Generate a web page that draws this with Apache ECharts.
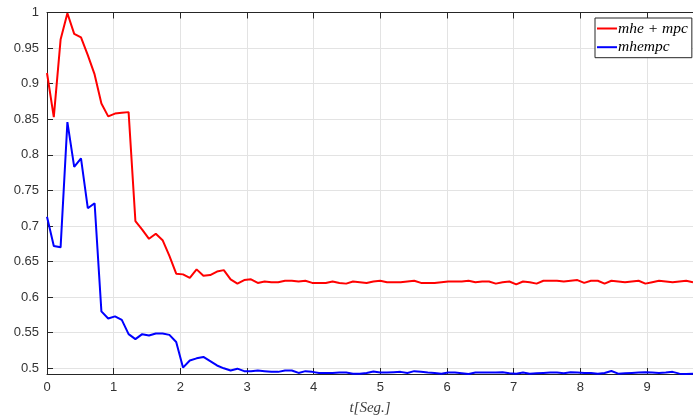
<!DOCTYPE html>
<html>
<head>
<meta charset="utf-8">
<script src="https://cdn.jsdelivr.net/npm/echarts@6/dist/echarts.min.js"></script>
<style>
html,body{margin:0;padding:0;background:#fff;}
#chart{width:693px;height:416px;}
</style>
</head>
<body>
<div id="chart"></div>
<script>
// sample period (s) of the recorded signals
const Ts = 0.102;
const seriesNames = ['mhe + mpc', 'mhempc'];
const xTicks = [0, 1, 2, 3, 4, 5, 6, 7, 8, 9];
const yTicks = [0.5, 0.55, 0.6, 0.65, 0.7, 0.75, 0.8, 0.85, 0.9, 0.95, 1];
const xRange = [0, 9.69];
const yRange = [0.492, 1];

const mheMpc = [
  0.915, 0.853, 0.962, 0.999, 0.970, 0.965, 0.940, 0.913, 0.872, 0.854,
  0.858, 0.859, 0.860, 0.707, 0.695, 0.682, 0.689, 0.680, 0.658, 0.633,
  0.632, 0.627, 0.639, 0.630, 0.631, 0.636, 0.638, 0.625, 0.619, 0.624,
  0.625, 0.620, 0.622, 0.621, 0.621, 0.623, 0.623, 0.622, 0.623, 0.620,
  0.620, 0.620, 0.622, 0.620, 0.619, 0.622, 0.621, 0.620, 0.622, 0.623,
  0.621, 0.621, 0.621, 0.622, 0.623, 0.620, 0.620, 0.620, 0.621, 0.622,
  0.622, 0.622, 0.623, 0.621, 0.622, 0.622, 0.619, 0.621, 0.622, 0.618,
  0.622, 0.621, 0.619, 0.623, 0.623, 0.623, 0.622, 0.623, 0.624, 0.620,
  0.623, 0.623, 0.619, 0.623, 0.622, 0.621, 0.622, 0.623, 0.619, 0.621,
  0.623, 0.622, 0.621, 0.622, 0.623, 0.621
];
const mhempc = [
  0.713, 0.672, 0.670, 0.846, 0.783, 0.795, 0.725, 0.732, 0.580, 0.570,
  0.573, 0.568, 0.548, 0.541, 0.548, 0.546, 0.549, 0.549, 0.547, 0.537,
  0.501, 0.511, 0.514, 0.516, 0.510, 0.504, 0.500, 0.497, 0.4995, 0.496,
  0.496, 0.497, 0.496, 0.495, 0.495, 0.497, 0.497, 0.4935, 0.496, 0.495,
  0.4935, 0.4935, 0.4935, 0.494, 0.494, 0.4925, 0.4925, 0.4935, 0.4955, 0.494,
  0.494, 0.4945, 0.495, 0.4935, 0.496, 0.495, 0.494, 0.4935, 0.4925, 0.494,
  0.494, 0.493, 0.492, 0.494, 0.494, 0.494, 0.494, 0.4945, 0.493, 0.4925,
  0.494, 0.4925, 0.493, 0.4935, 0.494, 0.494, 0.493, 0.4945, 0.494, 0.4935,
  0.4935, 0.4925, 0.4935, 0.4962, 0.4925, 0.493, 0.4935, 0.494, 0.4945, 0.494,
  0.4935, 0.494, 0.495, 0.4925, 0.492, 0.4925
];

const time = mheMpc.map((_, i) => +(i * Ts).toFixed(4));
const pairs = arr => arr.map((v, i) => [time[i], v]);

const axisColor = '#262626';
const tickFont = { fontFamily: 'Liberation Sans', fontSize: 13, color: '#333' };

const chart = echarts.init(document.getElementById('chart'), null, { renderer: 'canvas' });
chart.setOption({
  animation: false,
  backgroundColor: '#fff',
  grid: { left: 47, right: 0, top: 12.5, bottom: 42, containLabel: false, outerBoundsMode: 'none' },
  xAxis: [{
    type: 'value', min: xRange[0], max: xRange[1], position: 'bottom',
    name: 't[Seg.]', nameLocation: 'middle', nameGap: 27,
    nameTextStyle: { fontFamily: 'Liberation Serif', fontStyle: 'italic', fontSize: 15, color: '#404040' },
    axisLine: { show: true, onZero: false, lineStyle: { color: axisColor, width: 1 } },
    axisTick: { show: true, inside: true, length: 6, customValues: xTicks, lineStyle: { color: axisColor } },
    axisLabel: { show: true, customValues: xTicks, margin: 7, ...tickFont },
    splitLine: { show: true, lineStyle: { color: '#e3e3e3', width: 1 } }
  }, {
    type: 'value', min: xRange[0], max: xRange[1], position: 'top',
    axisLine: { show: true, onZero: false, lineStyle: { color: axisColor, width: 1 } },
    axisTick: { show: true, inside: true, length: 6, customValues: xTicks, lineStyle: { color: axisColor } },
    axisLabel: { show: false },
    splitLine: { show: false }
  }],
  yAxis: {
    type: 'value', min: yRange[0], max: yRange[1],
    axisLine: { show: true, onZero: false, lineStyle: { color: axisColor, width: 1 } },
    axisTick: { show: true, inside: true, length: 6, customValues: yTicks, lineStyle: { color: axisColor } },
    axisLabel: { show: true, customValues: yTicks, margin: 8, ...tickFont },
    splitLine: { show: true, lineStyle: { color: '#e3e3e3', width: 1 } }
  },
  legend: {
    show: true, orient: 'vertical', left: 595, top: 18,
    padding: [2.5, 4, 2.5, 2], itemGap: 2.7, itemWidth: 20, itemHeight: 2,
    icon: 'rect',
    backgroundColor: '#fff', borderColor: axisColor, borderWidth: 1,
    textStyle: { fontFamily: 'Liberation Serif', fontStyle: 'italic', fontSize: 15.5, lineHeight: 15, color: '#000', padding: [0, 0, 0, -4] },
    data: seriesNames
  },
  series: [{
    name: seriesNames[0], type: 'line', data: pairs(mheMpc), showSymbol: false,
    color: '#ff0000', lineStyle: { color: '#ff0000', width: 2 }, clip: true, z: 3
  }, {
    name: seriesNames[1], type: 'line', data: pairs(mhempc), showSymbol: false,
    color: '#0000ff', lineStyle: { color: '#0000ff', width: 2 }, clip: true, z: 3
  }]
});
</script>
</body>
</html>
